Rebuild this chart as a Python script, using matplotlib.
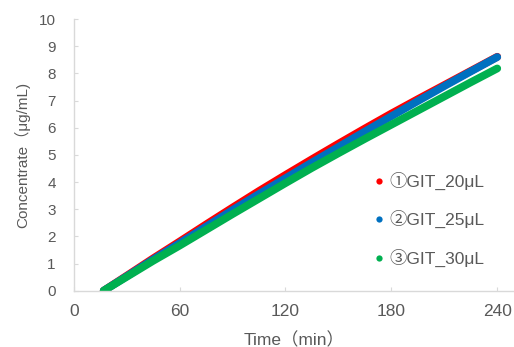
import matplotlib
matplotlib.use("Agg")
import matplotlib.pyplot as plt
from matplotlib.lines import Line2D

plt.rcParams['font.family'] = ['Liberation Sans', 'Noto Sans CJK JP', 'DejaVu Sans']

time = [17, 30, 45, 60, 75, 90, 105, 120, 135, 150, 165, 180, 195, 210, 225, 240]
git_20 = [0.00, 0.55, 1.19, 1.81, 2.44, 3.06, 3.67, 4.26, 4.84, 5.41, 5.97, 6.52, 7.05, 7.57, 8.09, 8.61]
git_25 = [0.00, 0.53, 1.15, 1.75, 2.36, 2.97, 3.56, 4.14, 4.72, 5.29, 5.86, 6.42, 6.98, 7.53, 8.07, 8.60]
git_30 = [0.00, 0.51, 1.10, 1.66, 2.24, 2.82, 3.39, 3.96, 4.52, 5.06, 5.59, 6.11, 6.63, 7.15, 7.67, 8.18]

labels = ['①GIT_20μL', '②GIT_25μL', '③GIT_30μL']
colors = ['#FF0000', '#0070C0', '#00B050']
xticks = [0, 60, 120, 180, 240]
yticks = list(range(0, 11))

fig = plt.figure(figsize=(5.14, 3.47), dpi=100)
ax = fig.add_axes([0.1434, 0.1622, 0.8566, 0.9452 - 0.1622])

for ys, c in zip([git_20, git_25, git_30], colors):
    ax.plot(time, ys, color=c, lw=5.6, solid_capstyle='round', solid_joinstyle='round')

ax.set_xlim(0, 249.5)
ax.set_ylim(0, 10)
ax.set_xticks(xticks)
ax.set_yticks(yticks)

grey = '#D9D9D9'
txt = '#595959'
for s in ['top', 'right']:
    ax.spines[s].set_visible(False)
for s in ['left', 'bottom']:
    ax.spines[s].set_color(grey)
    ax.spines[s].set_linewidth(1.0)
ax.tick_params(direction='in', length=3, color=grey, labelcolor=txt)
ax.tick_params(axis='x', labelsize=12.5, pad=9.5)
ax.tick_params(axis='y', labelsize=11, pad=13)

ax.set_xlabel('Time（min）', color=txt, fontsize=12.5, labelpad=9)
ax.set_ylabel('Concentrate（μg/mL)', color=txt, fontsize=11, labelpad=6)

handles = [Line2D([], [], ls='none', marker='o', markersize=4.5, color=c, markeredgewidth=0) for c in colors]
leg = fig.legend(handles, labels, loc='upper left', bbox_to_anchor=(0.713, 0.525),
                 frameon=False, fontsize=12.5, handlelength=0.6, handletextpad=0.3,
                 labelspacing=1.17, borderaxespad=0)
for t in leg.get_texts():
    t.set_color(txt)

fig.savefig('out.png', dpi=100)
